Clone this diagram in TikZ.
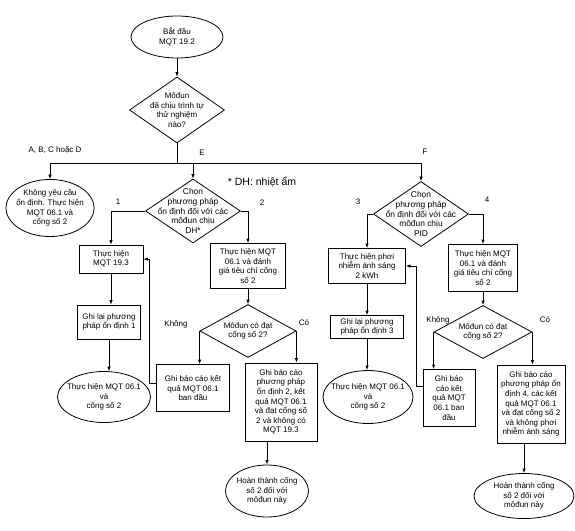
\documentclass[tikz,border=0pt]{standalone}
\usepackage{fontspec}
\setmainfont{Liberation Sans}
\usetikzlibrary{shapes.geometric,arrows.meta}
\begin{document}
\begin{tikzpicture}[x=1pt,y=-1pt,
 every node/.style={font=\fontsize{8}{9.6}\selectfont, align=center},
 shp/.style={draw, line width=0.8pt, inner sep=0pt},
 ell/.style={shp, ellipse},
 dia/.style={shp, diamond},
 box/.style={shp, rectangle, inner sep=1pt},
 txt/.style={inner sep=0pt},
 dtxt/.style={inner sep=0pt, font=\fontsize{8.4}{9.6}\selectfont},
 lab/.style={inner sep=0pt},
 arr/.style={line width=0.8pt, -{Latex[length=4.5pt,width=3.5pt]}},
 ln/.style={line width=0.8pt}]
\useasboundingbox (0,0) rectangle (575,530);

% top
\node[ell, minimum width=92pt, minimum height=42pt] (start) at (177,37) {};
\node[txt] (startT) at (start) {Bắt đầu\\MQT 19.2};
\node[dia, minimum width=95pt, minimum height=66pt] (d1) at (177,110) {};
\node[txt] (d1T) at (d1) {Môđun\\đã chịu trình tự\\thử nghiệm\\nào?};
\coordinate (bus) at (177,163);

% left branch
\node[ell, minimum width=88pt, minimum height=57pt] (nostab) at (50,208) {};
\node[txt] (nostabT) at (nostab) {Không yêu cầu\\ổn định. Thực hiện\\MQT 06.1 và\\cống số 2};

% E branch
\node[dia, minimum width=95pt, minimum height=64pt] (dh) at (193,211) {};
\node[dtxt] (dhT) at (dh) {Chọn\\phương pháp\\ổn định đối với các\\môđun chịu\\DH*};
\node[box, minimum width=64pt, minimum height=28pt] (m193) at (111,259) {Thực hiện\\MQT 19.3};
\node[box, minimum width=75pt, minimum height=45pt] (b06a) at (248,266) {Thực hiện MQT\\06.1 và đánh\\giá tiêu chí cống\\số 2};
\node[box, minimum width=63pt, minimum height=34pt] (rec1) at (109,322) {Ghi lại phương\\pháp ổn định 1};
\node[ell, minimum width=93pt, minimum height=51pt] (ell1) at (104,397) {};
\node[txt] (ell1T) at (ell1) {Thực hiện MQT 06.1\\và\\cống số 2};
\node[dia, minimum width=96pt, minimum height=53pt] (dm) at (248,331) {};
\node[txt] (dmT) at (dm) {Môđun có đạt\\cống số 2?};
\node[box, minimum width=73pt, minimum height=47pt] (bm1) at (193,388) {Ghi báo cáo kết\\quả MQT 06.1\\ban đầu};
\node[box, minimum width=72pt, minimum height=78pt] (bm2) at (281,402) {Ghi báo cáo\\phương pháp\\ổn định 2, kết\\quả MQT 06.1\\và đạt cống số\\2 và không có\\MQT 19.3};
\node[ell, minimum width=83pt, minimum height=52pt] (endm) at (267,491) {};
\node[txt] (endmT) at (endm) {Hoàn thành cống\\số 2 đối với\\môđun này};

% F branch
\node[dia, minimum width=95pt, minimum height=65pt] (pid) at (421,214) {};
\node[dtxt] (pidT) at (pid) {Chọn\\phương pháp\\ổn định đối với các\\môđun chịu\\PID};
\node[box, minimum width=77pt, minimum height=35pt] (light) at (367,266) {Thực hiện phơi\\nhiễm ánh sáng\\2 kWh};
\node[box, minimum width=69pt, minimum height=47pt] (b06b) at (483,268) {Thực hiện MQT\\06.1 và đánh\\giá tiêu chí cống\\số 2};
\node[box, minimum width=73pt, minimum height=23pt] (rec3) at (367,327) {Ghi lại phương\\pháp ổn định 3};
\node[ell, minimum width=90pt, minimum height=53pt] (ell3) at (368,397) {};
\node[txt] (ell3T) at (ell3) {Thực hiện MQT 06.1\\và\\cống số 2};
\node[dia, minimum width=98pt, minimum height=53pt] (dr) at (483,332) {};
\node[txt] (drT) at (dr) {Môđun có đạt\\cống số 2?};
\node[box, minimum width=52pt, minimum height=57pt] (br1) at (449,398) {Ghi báo\\cáo kết\\quả MQT\\06.1 ban\\đầu};
\node[box, minimum width=68pt, minimum height=78pt] (br2) at (531,404) {Ghi báo cáo\\phương pháp ổn\\định 4, các kết\\quả MQT 06.1\\và đạt cống số 2\\và không phơi\\nhiễm ánh sáng};
\node[ell, minimum width=100pt, minimum height=45pt] (endr) at (524,496) {};
\node[txt] (endrT) at (endr) {Hoàn thành cống\\số 2 đối với\\môđun này};

% labels
\node[lab] (lA) at (55,150) {A, B, C hoặc D};
\node[lab] (lE) at (202,153) {E};
\node[lab] (lF) at (425,152) {F};
\node[lab, font=\fontsize{10.5}{12}\selectfont] (lDH) at (262,182) {* DH: nhiệt ẩm};
\node[lab] (l1) at (118,202) {1};
\node[lab] (l2) at (262,203) {2};
\node[lab] (l3) at (358,202) {3};
\node[lab] (l4) at (487,200) {4};
\node[lab] (lk1) at (176,324) {Không};
\node[lab] (lc1) at (304,323) {Có};
\node[lab] (lk2) at (438,320) {Không};
\node[lab] (lc2) at (545,320) {Có};

% connectors
\draw[arr] (start.south) -- (d1.north);
\draw[ln] (d1.south) -- (bus);
\draw[arr] (bus) -| (nostab.north);
\draw[arr] (bus) -| (dh.north);
\draw[arr] (bus) -| (pid.north);
\draw[arr] (dh.west) -| (m193.north);
\draw[arr] (dh.east) -| (b06a.north);
\draw[arr] (m193.south) -- (m193.south |- rec1.north);
\draw[arr] (rec1.south) -- (rec1.south |- ell1.north);
\draw[arr] (b06a.south) -- (dm.north);
\draw[arr] (dm.west) -- (dm.west |- bm1.north);
\draw[arr] (dm.east) -- (dm.east |- bm2.north);
\draw[arr] (bm2.south -| endm.north) -- (endm.north);
\draw[arr] ([yshift=5pt]bm1.west) -- ++(-7,0) |- (m193.east);

\draw[arr] (pid.west) -| (light.north);
\draw[arr] (pid.east) -| (b06b.north);
\draw[arr] (light.south) -- (rec3.north);
\draw[arr] (rec3.south) -- (rec3.south |- ell3.north);
\draw[arr] (b06b.south) -- (dr.north);
\draw[arr] (dr.west) -- (dr.west |- br1.north);
\draw[arr] (dr.east) -- (dr.east |- br2.north);
\draw[arr] (br2.south -| endr.north) -- (endr.north);
\draw[arr] ([yshift=12pt]br1.west) -- ++(-6,0) |- (light.east);
\end{tikzpicture}
\end{document}
